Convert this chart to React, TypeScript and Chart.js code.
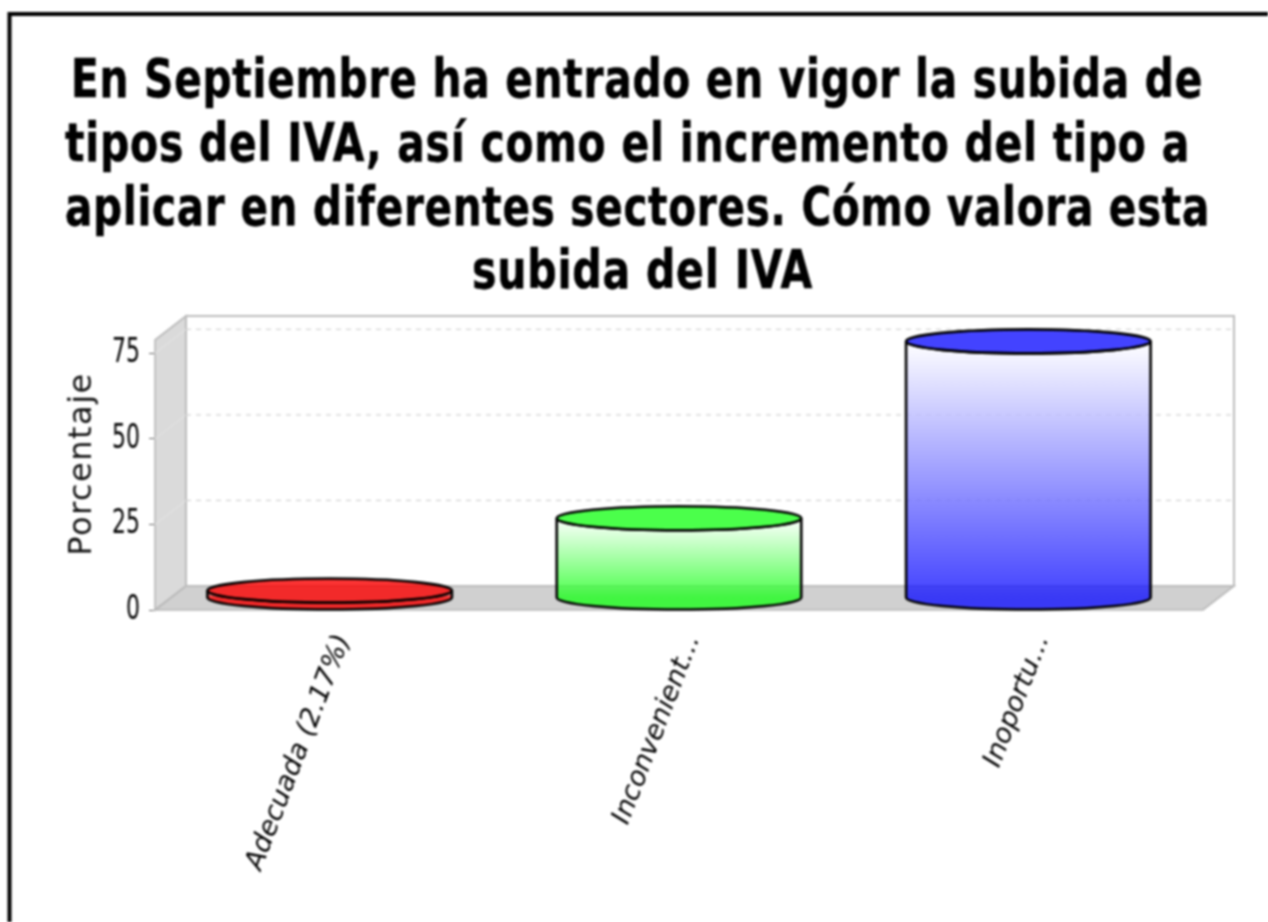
import React, { useEffect, useRef } from "react";
import { Chart, registerables } from "chart.js";

Chart.register(...registerables);

const categories = ["Adecuada (2.17%)", "Inconvenient...", "Inoportu..."];
const values = [2.17, 23.3, 75];
const yTicks = [0, 25, 50, 75];
const yLabel = "Porcentaje";
const titleLines = [
  "En Septiembre ha entrado en vigor la subida de",
  "tipos del IVA, así como el incremento del tipo a",
  "aplicar en diferentes sectores. Cómo valora esta",
  "subida del IVA",
];
// layout of the title lines: [left, right, baseline]
const titleBoxes = [
  [71, 1203, 97],
  [65, 1190, 161],
  [65, 1210, 225],
  [472, 813, 288],
];
const barColors = [
  [250, 0, 0],
  [30, 255, 30],
  [20, 20, 255],
];
const DX = 31;
const DY = 24;
const ALPHA = 0.8;

const rgba = (c: number[], a: number) => `rgba(${c[0]},${c[1]},${c[2]},${a})`;

const scenePlugin = {
  id: "scene",
  beforeDraw(chart: any) {
    // tick labels and axis title stay native; only their glyph widths are adjusted
    const ctx = chart.ctx;
    if (ctx.__patched) return;
    ctx.__patched = true;
    const orig = ctx.fillText.bind(ctx);
    ctx.fillText = (t: string, x: number, y: number, m?: number) => {
      if (/^\d+$/.test(t)) {
        orig(t, x, y, t.length * 14);
      } else if (t === yLabel) {
        ctx.letterSpacing = "1.5px";
        orig(t, x + 11, y);
        ctx.letterSpacing = "0px";
      } else if (m !== undefined) {
        orig(t, x, y, m);
      } else {
        orig(t, x, y);
      }
    };
  },
  beforeDatasetsDraw(chart: any) {
    const { ctx, chartArea: a, scales } = chart;
    const y = scales.y;
    const L = a.left, R = a.right, T = a.top, B = a.bottom;
    ctx.save();
    // left wall
    ctx.beginPath();
    ctx.moveTo(L, T); ctx.lineTo(L + DX, T - DY); ctx.lineTo(L + DX, B - DY); ctx.lineTo(L, B); ctx.closePath();
    ctx.fillStyle = "#dadada"; ctx.fill();
    ctx.strokeStyle = "#b8b8b8"; ctx.lineWidth = 1.6; ctx.stroke();
    // floor
    ctx.beginPath();
    ctx.moveTo(L, B); ctx.lineTo(L + DX, B - DY); ctx.lineTo(R + DX, B - DY); ctx.lineTo(R, B); ctx.closePath();
    ctx.fillStyle = "#d0d0d0"; ctx.fill();
    ctx.stroke();
    // back wall
    ctx.strokeStyle = "#bcbcbc"; ctx.lineWidth = 2;
    ctx.strokeRect(L + DX, T - DY, R - L, B - T);
    // gridlines
    ctx.lineWidth = 1.2;
    for (const v of yTicks.slice(1)) {
      const py = y.getPixelForValue(v);
      ctx.strokeStyle = "#e2e2e2"; ctx.setLineDash([]);
      ctx.beginPath(); ctx.moveTo(L, py); ctx.lineTo(L + DX, py - DY); ctx.stroke();
      ctx.strokeStyle = "#d0d0d0"; ctx.setLineDash([5, 5]);
      ctx.beginPath(); ctx.moveTo(L + DX, py - DY); ctx.lineTo(R + DX, py - DY); ctx.stroke();
      ctx.setLineDash([]);
    }
    // cylinders, from the bar elements of the dataset
    const els = chart.getDatasetMeta(0).data;
    els.forEach((el: any, i: number) => {
      const w = el.width;
      const x0 = el.x - w / 2;
      const rx = w / 2;
      const ry = DY / 2;
      const top = el.y - ry;
      const bot = el.base - ry;
      const c = barColors[i];
      const g = ctx.createLinearGradient(0, top, 0, bot);
      g.addColorStop(0, `rgba(255,255,255,${ALPHA})`);
      g.addColorStop(1, rgba(c, ALPHA));
      ctx.beginPath();
      ctx.moveTo(x0, top);
      ctx.lineTo(x0, bot);
      ctx.ellipse(el.x, bot, rx, ry, 0, Math.PI, 0, true);
      ctx.lineTo(x0 + w, top);
      ctx.ellipse(el.x, top, rx, ry, 0, 0, Math.PI, false);
      ctx.closePath();
      ctx.fillStyle = g; ctx.fill();
      ctx.strokeStyle = "#000"; ctx.lineWidth = 2.6; ctx.stroke();
      ctx.beginPath();
      ctx.ellipse(el.x, top, rx, ry, 0, 0, Math.PI * 2);
      ctx.fillStyle = rgba(c, ALPHA); ctx.fill();
      ctx.strokeStyle = "#000"; ctx.stroke();
    });
    ctx.restore();
  },
  afterDraw(chart: any) {
    const { ctx } = chart;
    ctx.save();
    // frame of the picture
    ctx.strokeStyle = "#000"; ctx.lineWidth = 4;
    ctx.strokeRect(9.5, 14, 1400, 1100);
    // title
    ctx.fillStyle = "#000";
    ctx.strokeStyle = "#000";
    ctx.lineWidth = 0.6;
    ctx.font = 'bold 54px "DejaVu Sans"';
    ctx.letterSpacing = "1px";
    ctx.textAlign = "center";
    ctx.textBaseline = "alphabetic";
    titleLines.forEach((line, i) => {
      const [l, r, b] = titleBoxes[i];
      ctx.fillText(line, (l + r) / 2, b, r - l);
      ctx.strokeText(line, (l + r) / 2, b, r - l);
    });
    ctx.restore();
  },
};

export default function App() {
  const ref = useRef<HTMLCanvasElement>(null);
  useEffect(() => {
    const chart = new Chart(ref.current!, {
      type: "bar",
      data: {
        labels: categories,
        datasets: [
          {
            data: values,
            backgroundColor: "rgba(0,0,0,0)",
            borderWidth: 0,
            barPercentage: 0.7,
            categoryPercentage: 1,
          },
        ],
      },
      options: {
        responsive: false,
        animation: false,
        devicePixelRatio: 1,
        layout: { padding: { top: 340, right: 65, left: 0, bottom: 0 } },
        plugins: { legend: { display: false }, title: { display: false }, tooltip: { enabled: false } },
        scales: {
          x: {
            afterFit: (s: any) => { s.height = 312; },
            grid: { display: false },
            border: { display: false },
            ticks: {
              autoSkip: false,
              minRotation: 69,
              maxRotation: 69,
              labelOffset: 14,
              padding: 12,
              color: "#000",
              font: { family: '"DejaVu Sans"', size: 27, style: "italic" },
            },
          },
          y: {
            min: 0,
            max: 78.9,
            afterFit: (s: any) => { s.width = 155; },
            grid: { drawOnChartArea: false, drawTicks: true, tickLength: 6, color: "#666" },
            border: { display: false },
            ticks: {
              stepSize: 25,
              includeBounds: false,
              padding: 9,
              color: "#000",
              font: { family: '"DejaVu Sans"', size: 34 },
            },
            title: {
              display: true,
              text: yLabel,
              color: "#111",
              font: { family: '"DejaVu Sans"', size: 32 },
              padding: { top: 63, bottom: 0 },
            },
          },
        },
      },
      plugins: [scenePlugin],
    } as any);
    return () => chart.destroy();
  }, []);
  return (
    <canvas
      ref={ref}
      width={1268}
      height={922}
      style={{ position: "fixed", left: 0, top: 0, width: 1268, height: 922, filter: "blur(0.85px)" }}
    />
  );
}
